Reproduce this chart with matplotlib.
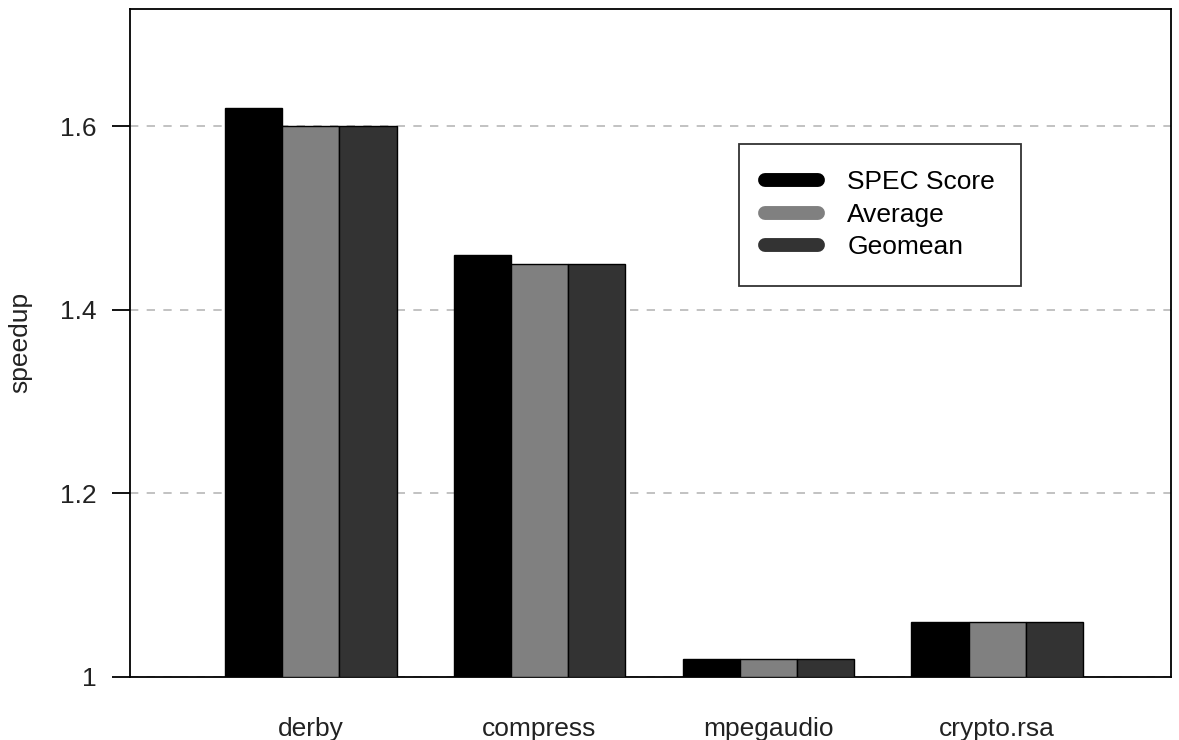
import matplotlib
matplotlib.use("Agg")
import matplotlib.pyplot as plt
from matplotlib.lines import Line2D
import numpy as np

plt.rcParams['font.family'] = ['Liberation Sans', 'DejaVu Sans']

categories = ["derby", "compress", "mpegaudio", "crypto.rsa"]
series_names = ["SPEC Score", "Average", "Geomean"]
spec_score = [1.62, 1.46, 1.02, 1.06]
average = [1.60, 1.45, 1.02, 1.06]
geomean = [1.60, 1.45, 1.02, 1.06]
yticks = [1, 1.2, 1.4, 1.6]
ytick_labels = ["1", "1.2", "1.4", "1.6"]
colors = ["#000000", "#808080", "#333333"]

W, H = 1179, 740
fig = plt.figure(figsize=(W/100, H/100), dpi=100)
ax = fig.add_axes([130/W, 1-677/H, (1171-130)/W, (677-8.5)/H])

series = [spec_score, average, geomean]
base = 1.0
group_pos = np.arange(len(categories)) * 4
for j, (vals, c) in enumerate(zip(series, colors)):
    x = group_pos + j
    ax.bar(x, np.array(vals) - base, bottom=base, width=1.0, align='edge',
           color=c, edgecolor='black', linewidth=1.0, zorder=3)

for yv in yticks:
    ax.axhline(yv, color='#b8b8b8', linestyle=(0, (5, 5)), linewidth=1.2, zorder=1)

fs = 19
ax.set_xlim(-1.66, 16.54)
ax.set_ylim(1.0, 1.728)
ax.set_xticks(group_pos + 1.5)
ax.set_xticklabels(categories, fontsize=fs, color='#222222')
ax.tick_params(axis='x', length=0, pad=29)
ax.set_yticks(yticks)
ax.set_yticklabels(ytick_labels, fontsize=fs, color='#222222')
ax.tick_params(axis='y', length=13, width=1.3, pad=11)
for s in ax.spines.values():
    s.set_linewidth(1.3)
ax.set_ylabel("speedup", fontsize=fs, labelpad=20, color='#222222')

handles = [Line2D([0], [0], color=c, linewidth=10, solid_capstyle='round') for c in colors]
leg = ax.legend(handles, series_names, loc='upper left',
                bbox_to_anchor=(739/W, 1-144/H), bbox_transform=fig.transFigure,
                fontsize=fs, frameon=True, fancybox=False, edgecolor='black',
                handlelength=2.0, handletextpad=1.1, labelspacing=0.32,
                borderpad=1.0, borderaxespad=0)
leg.get_frame().set_linewidth(1.3)

fig.savefig("out.png", dpi=100)
